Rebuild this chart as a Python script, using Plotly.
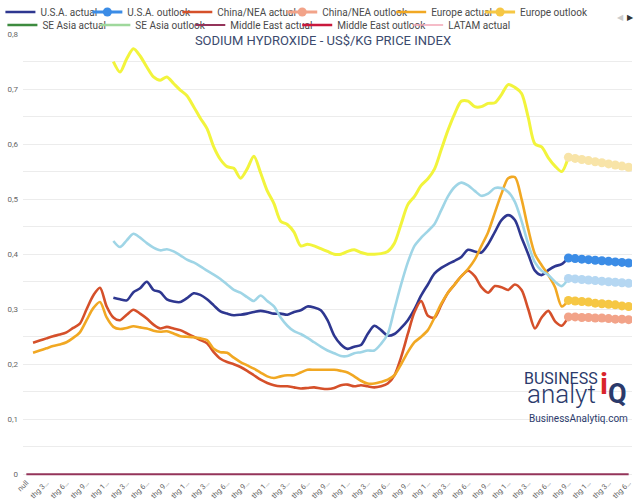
import plotly.graph_objects as go

# ---------------- data ----------------
tick_labels = ["null",
               "thg 3…", "thg 6…", "thg 9…", "thg 1…",
               "thg 3…", "thg 6…", "thg 9…", "thg 1…",
               "thg 3…", "thg 6…", "thg 9…", "thg 1…",
               "thg 3…", "thg 6…", "thg 9…", "thg 1…",
               "thg 3…", "thg 6…", "thg 9…", "thg 1…",
               "thg 3…", "thg 6…", "thg 9…", "thg 1…",
               "thg 3…", "thg 6…", "thg 9…", "thg 1…",
               "thg 3…", "thg 6…"]
n_months = 91

china_actual_start = 1
china_actual = [0.239, 0.243, 0.247, 0.251, 0.254, 0.258, 0.266, 0.274, 0.300, 0.325,
                0.339, 0.305, 0.285, 0.280, 0.290, 0.299, 0.292, 0.283, 0.272, 0.265,
                0.268, 0.265, 0.262, 0.256, 0.250, 0.244, 0.238, 0.222, 0.210, 0.204,
                0.200, 0.195, 0.188, 0.180, 0.172, 0.166, 0.162, 0.160, 0.160, 0.158,
                0.156, 0.157, 0.158, 0.156, 0.155, 0.157, 0.162, 0.163, 0.160, 0.162,
                0.160, 0.158, 0.160, 0.165, 0.180, 0.213, 0.255, 0.295, 0.315, 0.288,
                0.285, 0.308, 0.330, 0.345, 0.360, 0.370, 0.360, 0.340, 0.330, 0.342,
                0.340, 0.335, 0.345, 0.335, 0.300, 0.265, 0.285, 0.297, 0.278, 0.270,
                0.286]

europe_actual_start = 1
europe_actual = [0.221, 0.225, 0.229, 0.233, 0.236, 0.240, 0.248, 0.258, 0.280, 0.302,
                 0.313, 0.285, 0.268, 0.264, 0.266, 0.269, 0.267, 0.265, 0.261, 0.259,
                 0.260, 0.256, 0.251, 0.250, 0.249, 0.247, 0.244, 0.228, 0.222, 0.221,
                 0.212, 0.204, 0.198, 0.192, 0.185, 0.178, 0.175, 0.178, 0.180, 0.180,
                 0.185, 0.190, 0.190, 0.190, 0.190, 0.190, 0.188, 0.185, 0.178, 0.170,
                 0.165, 0.165, 0.168, 0.172, 0.180, 0.200, 0.222, 0.240, 0.250, 0.262,
                 0.285, 0.310, 0.330, 0.345, 0.360, 0.373, 0.390, 0.415, 0.440, 0.475,
                 0.510, 0.538, 0.540, 0.500, 0.445, 0.400, 0.380, 0.362, 0.340, 0.305,
                 0.316]

usa_actual_start = 13
usa_actual = [0.321, 0.318, 0.316, 0.331, 0.338, 0.350, 0.335, 0.331, 0.318, 0.314,
              0.313, 0.320, 0.329, 0.326, 0.318, 0.307, 0.296, 0.292, 0.289, 0.290,
              0.292, 0.295, 0.297, 0.295, 0.292, 0.292, 0.290, 0.295, 0.298, 0.305,
              0.303, 0.298, 0.280, 0.252, 0.236, 0.228, 0.232, 0.235, 0.255, 0.270,
              0.262, 0.252, 0.255, 0.266, 0.280, 0.300, 0.325, 0.345, 0.365, 0.375,
              0.382, 0.388, 0.395, 0.408, 0.405, 0.403, 0.418, 0.440, 0.462, 0.471,
              0.462, 0.430, 0.400, 0.370, 0.362, 0.371, 0.378, 0.382, 0.393]

other_a_actual_start = 13   # light blue series (legend page 2)
other_a_actual = [0.424, 0.413, 0.425, 0.437, 0.430, 0.420, 0.412, 0.407, 0.409, 0.405,
                  0.398, 0.390, 0.385, 0.378, 0.370, 0.363, 0.355, 0.345, 0.335, 0.330,
                  0.322, 0.315, 0.325, 0.315, 0.305, 0.285, 0.270, 0.260, 0.255, 0.248,
                  0.240, 0.232, 0.225, 0.220, 0.215, 0.215, 0.220, 0.222, 0.225, 0.225,
                  0.237, 0.255, 0.300, 0.345, 0.385, 0.415, 0.430, 0.442, 0.455, 0.480,
                  0.505, 0.522, 0.530, 0.525, 0.515, 0.506, 0.510, 0.520, 0.520, 0.513,
                  0.495, 0.460, 0.418, 0.385, 0.370, 0.362, 0.350, 0.342, 0.356]

other_b_actual_start = 13   # bright yellow series (legend page 2)
other_b_actual = [0.750, 0.731, 0.755, 0.773, 0.760, 0.740, 0.722, 0.716, 0.722, 0.710,
                  0.698, 0.688, 0.668, 0.647, 0.628, 0.595, 0.572, 0.559, 0.556, 0.538,
                  0.555, 0.578, 0.548, 0.515, 0.492, 0.460, 0.454, 0.440, 0.415, 0.418,
                  0.415, 0.410, 0.405, 0.400, 0.400, 0.405, 0.408, 0.403, 0.400, 0.400,
                  0.401, 0.405, 0.420, 0.455, 0.490, 0.505, 0.525, 0.537, 0.555, 0.590,
                  0.625, 0.655, 0.678, 0.678, 0.668, 0.668, 0.674, 0.675, 0.690, 0.708,
                  0.703, 0.692, 0.648, 0.600, 0.595, 0.575, 0.560, 0.550, 0.576]

outlook_start = 81
usa_outlook = [0.393, 0.392, 0.391, 0.390, 0.389, 0.388, 0.387, 0.386, 0.385, 0.384]
china_outlook = [0.286, 0.286, 0.285, 0.285, 0.284, 0.284, 0.283, 0.282, 0.282, 0.281]
europe_outlook = [0.316, 0.315, 0.314, 0.313, 0.311, 0.310, 0.309, 0.308, 0.306, 0.305]
other_a_outlook = [0.356, 0.355, 0.354, 0.353, 0.352, 0.351, 0.350, 0.349, 0.348, 0.347]
other_b_outlook = [0.576, 0.574, 0.572, 0.570, 0.568, 0.566, 0.564, 0.562, 0.560, 0.558]

middle_east_actual_start = 0
middle_east_actual = [0.0] * n_months

# ---------------- geometry helpers ----------------
W, H = 640, 500
PL, PR, PT = 22.6, 632.0, 34.0
Y0PX = 474.0
Y_MIN, Y_MAX = -0.003, 0.8
ppu = (Y0PX - PT) / Y_MAX
PB = Y0PX + (0 - Y_MIN) * ppu


def px2x(px):
    return (px - PL) / (PR - PL)


def px2y(py):
    return (PB - py) / (PB - PT)


fig = go.Figure()


def add_series(name, start, vals, color, width, legend=None, outlook=False, showlegend=True):
    xs = list(range(start, start + len(vals)))
    kw = dict(x=xs, y=vals, name=name, hoverinfo="skip",
              line=dict(color=color, width=width, shape="spline", smoothing=0.8),
              showlegend=showlegend)
    if outlook:
        kw["mode"] = "lines+markers"
        kw["marker"] = dict(size=9, color=color)
    else:
        kw["mode"] = "lines"
    if legend:
        kw["legend"] = legend
    fig.add_trace(go.Scatter(**kw))


# legend item placement (text start px, row centre px)
legend_items = [
    ("U.S.A. actual", 40, 12), ("U.S.A. outlook", 127, 12), ("China/NEA actual", 217, 12),
    ("China/NEA outlook", 322, 12), ("Europe actual", 431, 12), ("Europe outlook", 520, 12),
    ("SE Asia actual", 42, 25), ("SE Asia outlook", 135, 25), ("Middle East actual", 230, 25),
    ("Middle East outlook", 337, 25), ("LATAM actual", 448, 25),
]
legend_ids = {}
layout_legends = {}
for k, (nm, tx, ty) in enumerate(legend_items):
    lid = "legend" if k == 0 else f"legend{k + 1}"
    legend_ids[nm] = lid
    layout_legends[lid] = dict(x=px2x(tx - 40), y=px2y(ty), xanchor="left", yanchor="middle",
                               orientation="h", bgcolor="rgba(0,0,0,0)", itemwidth=30,
                               font=dict(family="Roboto", size=10, color="#4a4a4a"))

add_series("U.S.A. actual", usa_actual_start, usa_actual, "#2e3790", 2.6, legend_ids["U.S.A. actual"])
add_series("U.S.A. outlook", outlook_start, usa_outlook, "#3b8ce6", 3, legend_ids["U.S.A. outlook"], outlook=True)
add_series("China/NEA actual", china_actual_start, china_actual, "#d5502a", 2.6, legend_ids["China/NEA actual"])
add_series("China/NEA outlook", outlook_start, china_outlook, "#f2a389", 3, legend_ids["China/NEA outlook"], outlook=True)
add_series("Europe actual", europe_actual_start, europe_actual, "#f1a823", 2.6, legend_ids["Europe actual"])
add_series("Europe outlook", outlook_start, europe_outlook, "#f6c744", 3, legend_ids["Europe outlook"], outlook=True)
add_series("SE Asia actual", 0, [None], "#3d8b3f", 2.6, legend_ids["SE Asia actual"])
add_series("SE Asia outlook", 0, [None], "#9fd89c", 2.6, legend_ids["SE Asia outlook"])
add_series("Middle East actual", middle_east_actual_start, middle_east_actual, "#94345a", 2, legend_ids["Middle East actual"])
add_series("Middle East outlook", 0, [None], "#c9183c", 2.6, legend_ids["Middle East outlook"])
add_series("LATAM actual", 0, [None], "#f2a6b6", 1.5, legend_ids["LATAM actual"])
add_series("Other A actual", other_a_actual_start, other_a_actual, "#9fd5e6", 2.6, showlegend=False)
add_series("Other A outlook", outlook_start, other_a_outlook, "#b5d7f2", 3, outlook=True, showlegend=False)
add_series("Other B actual", other_b_actual_start, other_b_actual, "#f2f43c", 3, showlegend=False)
add_series("Other B outlook", outlook_start, other_b_outlook, "#f8e4a8", 3, outlook=True, showlegend=False)

annotations = [
    # legend paging arrows
    dict(x=px2x(620), y=px2y(18), text="◀", font=dict(size=8, color="#cccccc")),
    dict(x=px2x(630), y=px2y(18), text="▶", font=dict(size=8, color="#333333")),
    # logo
    dict(x=px2x(561), y=px2y(378), text="BUSINESS",
         font=dict(family="Roboto", size=16, color="#2b3a6b")),
    dict(x=px2x(561), y=px2y(394), text="analyt",
         font=dict(family="Roboto", size=26, color="#2b3a6b", weight=300)),
    dict(x=px2x(604), y=px2y(383), text="<b>i</b>",
         font=dict(family="Roboto", size=30, color="#d9252b")),
    dict(x=px2x(617), y=px2y(394), text="<b>Q</b>",
         font=dict(family="Roboto", size=27, color="#2b3a6b")),
    dict(x=px2x(578), y=px2y(418), text="BusinessAnalytiq.com",
         font=dict(family="Roboto", size=10, color="#2b3a6b")),
]
for a in annotations:
    a.update(xref="paper", yref="paper", showarrow=False, xanchor="center", yanchor="middle")

fig.update_layout(
    width=W, height=H,
    margin=dict(l=PL, r=W - PR, t=PT, b=H - PB, pad=0, autoexpand=False),
    paper_bgcolor="white", plot_bgcolor="white",
    separators=",.",
    font=dict(family="Roboto", color="#666666"),
    title=dict(text="SODIUM HYDROXIDE - US$/KG PRICE INDEX", x=323 / W, y=1 - 40 / H,
               xanchor="center", yanchor="middle",
               font=dict(family="Roboto", size=13, color="#3b4a6e")),
    xaxis=dict(range=[-0.5, n_months - 0.5], tickmode="array",
               tickvals=list(range(0, n_months, 3)), ticktext=tick_labels,
               tickangle=-45, tickfont=dict(size=7.5, color="#666666"), ticklabelstandoff=0,
               showgrid=False, zeroline=False, showline=False, ticks="", automargin=False),
    yaxis=dict(range=[Y_MIN, Y_MAX], dtick=0.1, tick0=0, tickformat="~g",
               tickfont=dict(size=8, color="#666666"), ticks="", ticklabelstandoff=4,
               showgrid=True, gridcolor="#ececec", gridwidth=1, zeroline=False, showline=False,
               automargin=False,
               minor=dict(dtick=0.05, tick0=0, showgrid=True, gridcolor="#ececec", gridwidth=1)),
    annotations=annotations,
    hovermode=False,
    **layout_legends,
)

fig.write_html("out.html", config={"displayModeBar": False},
               post_script="document.body.style.margin='0';document.body.style.padding='0';")
